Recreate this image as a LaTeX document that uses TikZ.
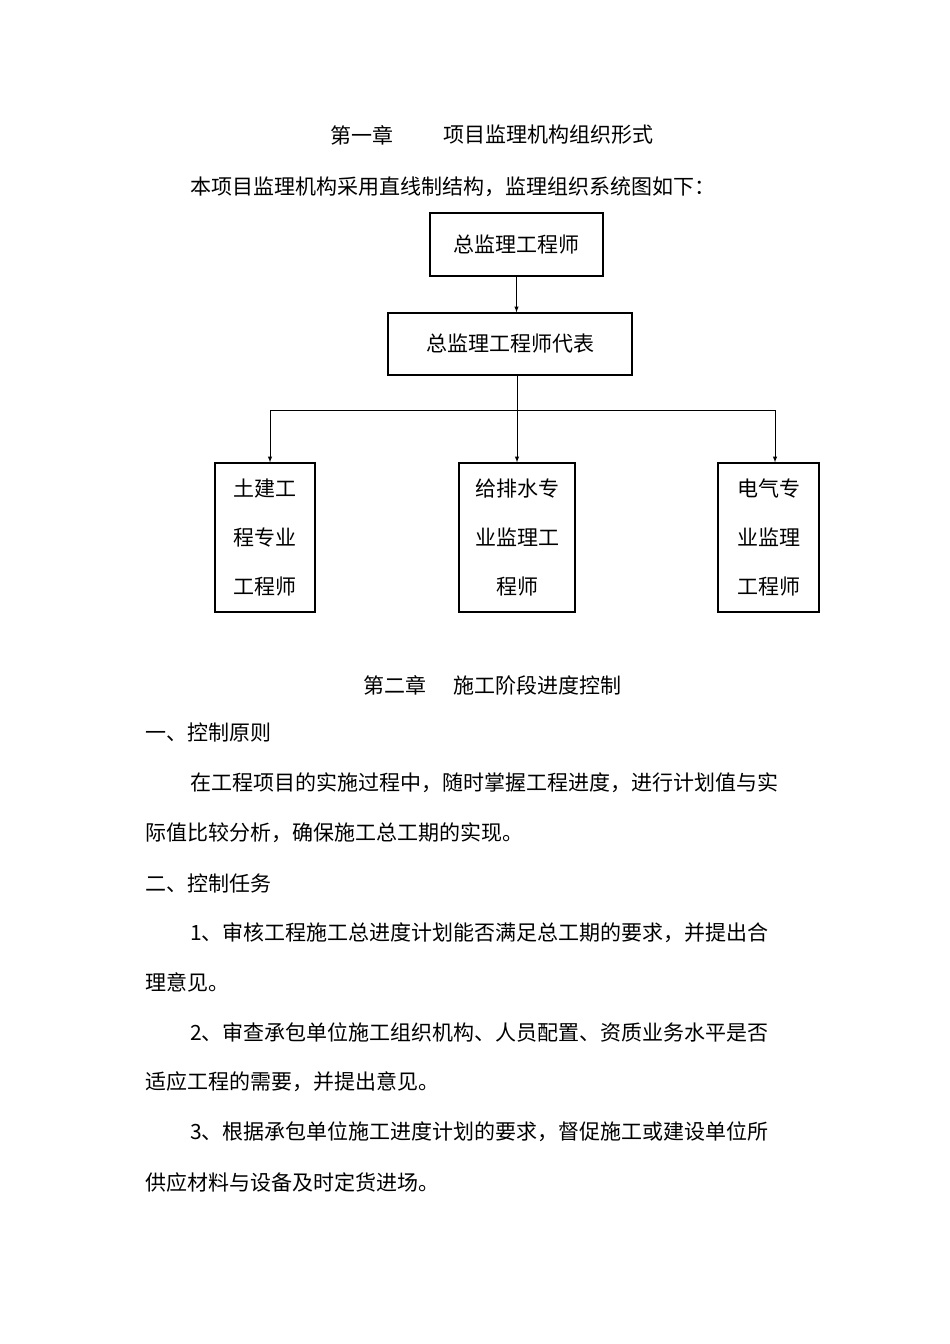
\documentclass[tikz,border=0pt]{standalone}
\usepackage{fontspec}
\setmainfont{Noto Sans CJK SC}
\begin{document}
\begin{tikzpicture}[x=1pt,y=-1pt,
  txt/.style={anchor=west,inner sep=0pt,font=\fontsize{21}{21}\selectfont},
  bx/.style={draw,line width=1.3pt,inner sep=0pt,font=\fontsize{21}{21}\selectfont},
  arr/.style={-latex,line width=1pt}]
\useasboundingbox[fill=white] (0,0) rectangle (950,1344);
\node[txt] (c1a) at (330,135) {第一章};
\node[txt] (c1b) at (443,135) {项目监理机构组织形式};
\node[txt] (l1) at (190,187) {本项目监理机构采用直线制结构，监理组织系统图如下：};
\node[bx,minimum width=173pt,minimum height=63pt] (b1) at (516.5,244.5) {总监理工程师};
\node[bx,minimum width=244pt,minimum height=62pt] (b2) at (510,344) {总监理工程师代表};
\node[bx,minimum width=100pt,minimum height=149pt,align=center] (b3) at (265,537.5) {土建工\\[28pt]程专业\\[28pt]工程师};
\node[bx,minimum width=116pt,minimum height=149pt,align=center] (b4) at (517,537.5) {给排水专\\[28pt]业监理工\\[28pt]程师};
\node[bx,minimum width=101pt,minimum height=149pt,align=center] (b5) at (768.5,537.5) {电气专\\[28pt]业监理\\[28pt]工程师};
\coordinate (j) at (517,410);
\coordinate (jl) at (270,410);
\coordinate (jr) at (775,410);
\draw[arr] (b1.south) -- (b2.north -| b1.south);
\draw[line width=1pt] (b2.south -| j) -- (j);
\draw[line width=1pt] (jl) -- (jr);
\draw[arr] (jl) -- (b3.north -| jl);
\draw[arr] (j) -- (b4.north -| j);
\draw[arr] (jr) -- (b5.north -| jr);
\node[txt] (c2a) at (363,685) {第二章};
\node[txt] (c2b) at (453,685) {施工阶段进度控制};
\node[txt] (s1) at (145,733) {一、控制原则};
\node[txt] (p1) at (190,783) {在工程项目的实施过程中，随时掌握工程进度，进行计划值与实};
\node[txt] (p2) at (145,833) {际值比较分析，确保施工总工期的实现。};
\node[txt] (s2) at (145,883) {二、控制任务};
\node[txt] (p3) at (190,933) {1、审核工程施工总进度计划能否满足总工期的要求，并提出合};
\node[txt] (p4) at (145,982) {理意见。};
\node[txt] (p5) at (190,1032) {2、审查承包单位施工组织机构、人员配置、资质业务水平是否};
\node[txt] (p6) at (145,1082) {适应工程的需要，并提出意见。};
\node[txt] (p7) at (190,1132) {3、根据承包单位施工进度计划的要求，督促施工或建设单位所};
\node[txt] (p8) at (145,1182) {供应材料与设备及时定货进场。};
\end{tikzpicture}
\end{document}
